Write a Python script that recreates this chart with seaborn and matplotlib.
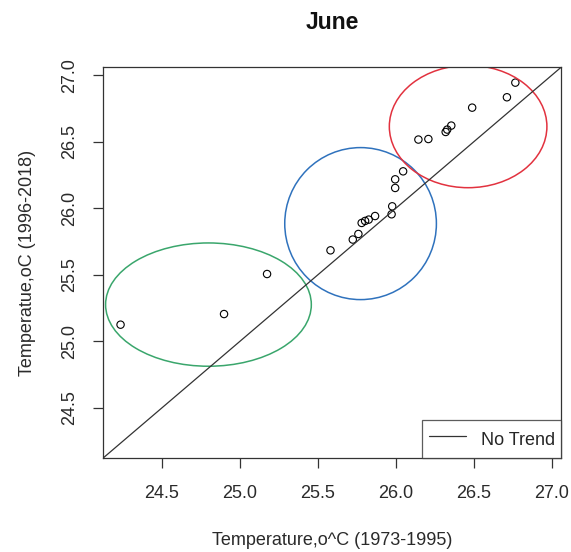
import matplotlib
matplotlib.use("Agg")
import matplotlib.pyplot as plt
from matplotlib.patches import Ellipse
import seaborn as sns
import pandas as pd

# Data
temp_1973_1995 = [24.234, 24.898, 25.174, 25.581, 25.724, 25.760, 25.781, 25.803,
                  25.826, 25.867, 25.973, 25.977, 25.996, 25.996, 26.047, 26.145,
                  26.209, 26.320, 26.330, 26.356, 26.490, 26.713, 26.767]
temp_1996_2018 = [25.125, 25.205, 25.506, 25.684, 25.765, 25.807, 25.890, 25.905,
                  25.915, 25.942, 25.955, 26.015, 26.153, 26.218, 26.278, 26.517,
                  26.521, 26.574, 26.592, 26.622, 26.757, 26.835, 26.945]
tick_values = [24.5, 25.0, 25.5, 26.0, 26.5, 27.0]
tick_labels = ["24.5", "25.0", "25.5", "26.0", "26.5", "27.0"]
ellipse_centers = [(24.798, 25.276), (25.774, 25.885), (26.464, 26.615)]
ellipse_widths = [1.320, 0.973, 1.011]
ellipse_heights = [0.927, 1.143, 0.920]
ellipse_colors = ["#3aa66c", "#2f72bd", "#e2323f"]

df = pd.DataFrame({"x": temp_1973_1995, "y": temp_1996_2018})

sns.set_theme(style="white")
plt.rcParams['font.family'] = ['Liberation Sans', 'DejaVu Sans']

fig = plt.figure(figsize=(5.71, 5.52), dpi=100)
ax = fig.add_axes([0.18, 0.1697, 0.8025, 0.7083])

lim = (24.12, 27.06)
ax.set_xlim(lim)
ax.set_ylim(lim)

sns.scatterplot(data=df, x="x", y="y", ax=ax, marker="o", s=28,
                facecolor="none", edgecolor="black", linewidth=0.8, legend=False)

ax.plot(lim, lim, color="#333333", linewidth=0.9, label="No Trend")

for c, w, h, col in zip(ellipse_centers, ellipse_widths, ellipse_heights, ellipse_colors):
    ax.add_patch(Ellipse(c, w, h, fill=False, edgecolor=col, linewidth=1.1))

ax.set_xticks(tick_values)
ax.set_xticklabels(tick_labels)
ax.set_yticks(tick_values)
ax.set_yticklabels(tick_labels, rotation=90, va="center")
ax.tick_params(axis="both", direction="out", length=7, width=0.9, colors="#333333",
               labelsize=13, labelcolor="#2a2a2a", bottom=True, left=True)
ax.tick_params(axis="x", pad=12.5)
ax.tick_params(axis="y", pad=11)
for s in ax.spines.values():
    s.set_visible(True)
    s.set_color("#333333")
    s.set_linewidth(0.9)

ax.set_xlabel("Temperature,o^C (1973-1995)", fontsize=13, color="#2a2a2a", labelpad=21)
ax.set_ylabel("Temperatue,oC (1996-2018)", fontsize=13, color="#2a2a2a", labelpad=17.5)
fig.text(332 / 571, 1 - 29 / 552, "June", ha="center", va="baseline", fontsize=16.5,
         fontweight="bold", color="#111111")

leg = ax.legend(loc="lower right", frameon=True, fancybox=False, borderaxespad=0,
                fontsize=13, handlelength=2.05, handleheight=1.8, borderpad=0.35,
                handletextpad=0.82)
leg.get_frame().set_edgecolor("#333333")
leg.get_frame().set_linewidth(0.9)

fig.savefig("out.png", dpi=100)
